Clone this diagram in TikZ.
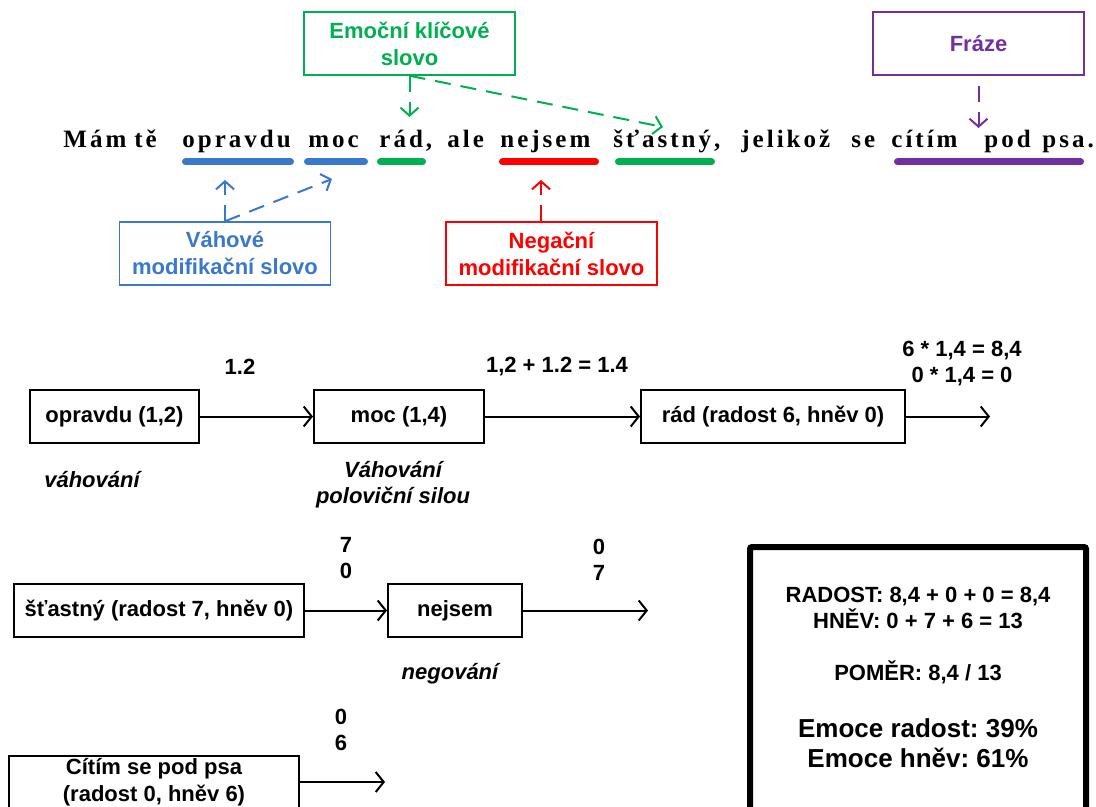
\documentclass[tikz,border=0pt]{standalone}
\usepackage{fontspec}
\usetikzlibrary{arrows.meta}
\setmainfont{Liberation Sans}
\newfontfamily\vetafont[LetterSpace=12]{Liberation Serif}
\frenchspacing

\definecolor{emoZelena}{HTML}{00B050}
\definecolor{modModra}{HTML}{3A78CC}
\definecolor{negCervena}{HTML}{FF0000}
\definecolor{frFialova}{HTML}{7030A0}

\tikzset{
  stitek/.style={draw, line width=0.75pt, align=center, inner sep=0pt,
    minimum width=105.5pt, minimum height=31.5pt,
    font=\fontsize{11}{13.5}\selectfont\bfseries},
  slovo/.style={anchor=base west, inner sep=0pt,
    font=\vetafont\fontsize{12.5}{14}\selectfont\bfseries},
  podtrzeni/.style={line width=3.5pt, line cap=round},
  ukazatel/.style={line width=1pt, dash pattern=on 8pt off 5pt,
    -{Straight Barb[length=4pt,width=9pt]}},
  krok/.style={draw, line width=1pt, inner sep=0pt, minimum height=26.5pt,
    align=center, font=\fontsize{11}{13.5}\selectfont\bfseries},
  tok/.style={line width=1pt, -{Straight Barb[length=4pt,width=10pt]}},
  hodnota/.style={inner sep=0pt, align=center,
    font=\fontsize{11}{13}\selectfont\bfseries},
  poznamka/.style={inner sep=0pt, align=center,
    font=\fontsize{11}{13}\selectfont\bfseries\itshape}
}

\begin{document}
\begin{tikzpicture}[x=0.5pt, y=-0.5pt]
  \clip (0,0) rectangle (1096,807);

  % Veta
  \foreach \sx/\stext/\sname in {63/Mám/s1, 134/tě/s2, 182/opravdu/s3,
      308/moc/s4, {379/rád,/s5}, 447/ale/s6, 500/nejsem/s7,
      {613/šťastný,/s8}, 741/jelikož/s9, 851/se/s10, 891/cítím/s11,
      984/pod/s12, 1042/psa./s13}
    \node[slovo] (\sname) at (\sx,148) {\stext};

  % Podtrzeni
  \foreach \ua/\ub/\ubarva in {185.5/290.5/modModra, 307.5/364.5/modModra,
      380.5/422.5/emoZelena, 502.5/595.5/negCervena,
      618.5/711.5/emoZelena, 897.5/1080.5/frFialova}
    \draw[podtrzeni, \ubarva] (\ua,162) -- (\ub,162);

  % Stitky
  \node[stitek, emoZelena] (klic) at (409.5,43.5) {Emoční klíčové\\slovo};
  \node[stitek, frFialova] (fraze) at (978.5,43.5) {Fráze};
  \node[stitek, modModra] (vaha) at (225,253.5) {Váhové\\modifikační slovo};
  \node[stitek, negCervena] (negace) at (551.5,253.5) {Negační\\modifikační slovo};

  \coordinate (klicA) at (409.5,117);
  \coordinate (klicB) at (663,127);
  \coordinate (frazeA) at (978.5,128);
  \coordinate (vahaA) at (225,180);
  \coordinate (vahaB) at (332,179);
  \coordinate (negaceA) at (541,180);

  \draw[ukazatel, emoZelena] (klic.south) -- (klicA);
  \draw[ukazatel, emoZelena] (klic.south) -- (klicB);
  \draw[ukazatel, frFialova] ([yshift=-5pt]fraze.south) -- (frazeA);
  \draw[ukazatel, modModra] (vaha.north) -- (vahaA);
  \draw[ukazatel, modModra] (vaha.north) -- (vahaB);
  \draw[ukazatel, negCervena] (negace.north -| negaceA) -- (negaceA);

  % Prvni radek
  \node[krok, minimum width=84.5pt] (opravdu) at (114.5,416.5) {opravdu (1,2)};
  \node[krok, minimum width=85pt] (moc) at (399,416.5) {moc (1,4)};
  \node[krok, minimum width=132pt] (rad) at (773,416.5) {rád (radost 6, hněv 0)};
  \coordinate (radVen) at (990,416.5);
  \draw[tok] (opravdu) -- (moc);
  \draw[tok] (moc) -- (rad);
  \draw[tok] (rad) -- (radVen);

  \node[hodnota] (h1) at (240,367) {1.2};
  \node[hodnota] (h2) at (557,367) {1,2 + 1.2 = 1.4};
  \node[hodnota] (h3) at (962,364) {6 * 1,4 = 8,4\\0 * 1,4 = 0};
  \node[poznamka] (p1) at (92,480) {váhování};
  \node[poznamka] (p2) at (393,485) {Váhování\\poloviční silou};

  % Druhy radek
  \node[krok, minimum width=145pt] (stastny) at (159,610.5) {šťastný (radost 7, hněv 0)};
  \node[krok, minimum width=67pt] (nejsem) at (455,610.5) {nejsem};
  \coordinate (nejsemVen) at (648,610.5);
  \draw[tok] (stastny) -- (nejsem);
  \draw[tok] (nejsem) -- (nejsemVen);

  \node[hodnota] (h4) at (346,558.5) {7\\0};
  \node[hodnota] (h5) at (599,560) {0\\7};
  \node[poznamka] (p3) at (450,674) {negování};

  % Treti radek
  \node[krok, minimum width=145pt, minimum height=26pt] (citim) at (154,782)
    {Cítím se pod psa\\(radost 0, hněv 6)};
  \coordinate (citimVen) at (385,782);
  \draw[tok] (citim) -- (citimVen);
  \node[hodnota] (h6) at (341,729.5) {0\\6};

  % Vysledek
  \node[inner sep=0pt, align=center,
    font=\fontsize{11}{13.5}\selectfont\bfseries] (vysledek) at (918,677)
    {RADOST: 8,4 + 0 + 0 = 8,4\\[-0.5pt]
     HNĚV: 0 + 7 + 6 = 13\\[12.5pt]
     POMĚR: 8,4 / 13\\[15pt]
     {\fontsize{13}{14.5}\selectfont Emoce radost: 39\%}\\[1.5pt]
     {\fontsize{13}{14.5}\selectfont Emoce hněv: 61\%}};
  \draw[line width=3pt, rounded corners=1pt] (750,547) rectangle (1086,830);
\end{tikzpicture}
\end{document}
